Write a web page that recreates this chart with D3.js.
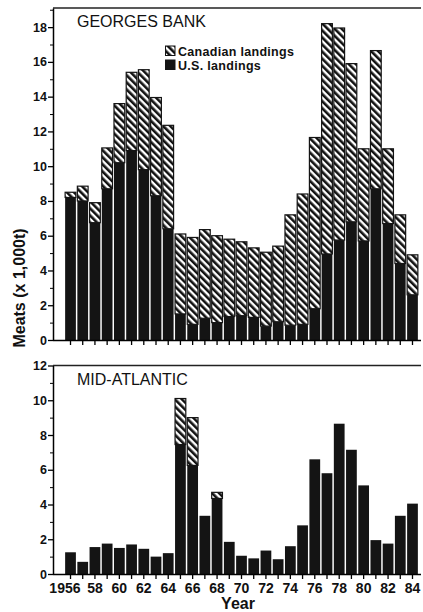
<!DOCTYPE html>
<html>
<head>
<meta charset="utf-8">
<script src="https://cdn.jsdelivr.net/npm/d3@7"></script>
<style>
  body { margin: 0; background: #fff; }
  svg { display: block; font-family: "Liberation Sans", Arial, sans-serif; }
</style>
</head>
<body>
<div id="chart"></div>
<script>
// landings of sea scallop meats, thousand tonnes
const years = d3.range(1956, 1985);
const gbUS = [8.2, 8.0, 6.75, 8.7, 10.2, 10.9, 9.8, 8.3, 6.4, 1.5, 0.9, 1.25, 1.0, 1.35, 1.4,
  1.3, 0.8, 1.05, 0.85, 0.9, 1.8, 4.95, 5.75, 6.8, 5.7, 8.7, 6.7, 4.4, 2.6];
const gbCanada = [0.3, 0.85, 1.15, 2.35, 3.4, 4.5, 5.75, 5.65, 5.95, 4.6, 5.0, 5.1, 5.0, 4.45, 4.25,
  4.0, 4.25, 4.35, 6.35, 7.5, 9.85, 13.25, 12.2, 9.1, 5.3, 7.95, 4.3, 2.8, 2.3];
const maUS = [1.25, 0.7, 1.55, 1.75, 1.5, 1.7, 1.45, 1.0, 1.2, 7.45, 6.25, 3.35, 4.35, 1.85, 1.05,
  0.9, 1.35, 0.85, 1.6, 2.8, 6.6, 5.8, 8.65, 7.15, 5.1, 1.95, 1.75, 3.35, 4.05];
const maCanada = [0, 0, 0, 0, 0, 0, 0, 0, 0, 2.65, 2.75, 0, 0.35, 0, 0,
  0, 0, 0, 0, 0, 0, 0, 0, 0, 0, 0, 0, 0, 0];
const seriesKeys = ["us", "canada"];
const legendLabels = ["Canadian landings", "U.S. landings"];

const width = 423, height = 612;
const left = 53, right = 421;

const svg = d3.select("#chart").append("svg")
  .attr("width", width).attr("height", height);

// diagonal hatch for canadian landings
svg.append("defs").append("pattern")
  .attr("id", "hatch")
  .attr("patternUnits", "userSpaceOnUse")
  .attr("width", 5).attr("height", 5)
  .attr("patternTransform", "rotate(-45)")
  .call(p => {
    p.append("rect").attr("width", 5).attr("height", 5).attr("fill", "#fff");
    p.append("rect").attr("width", 2.6).attr("height", 5).attr("fill", "#111");
  });

let x = d3.scaleBand()
  .domain(years)
  .range([64.4, 418.6])
  .paddingInner(0.12)
  .paddingOuter(0.06);

function panel(us, canada, yTop, yBottom, maxV, title, titleY, showLabels) {
  const data = years.map((yr, i) => ({year: yr, us: us[i], canada: canada[i]}));
  const stacked = d3.stack().keys(seriesKeys)(data);

  let y = d3.scaleLinear().domain([0, maxV]).range([yBottom, yTop]);

  const g = svg.append("g");

  // frame top line
  g.append("line")
    .attr("x1", left).attr("x2", right)
    .attr("y1", yTop).attr("y2", yTop)
    .attr("stroke", "#222").attr("stroke-width", 1.3);

  // bars
  stacked.forEach(s => {
    g.append("g").selectAll("rect")
      .data(s.filter(d => d[1] - d[0] > 0))
      .join("rect")
      .attr("x", d => x(d.data.year))
      .attr("width", x.bandwidth())
      .attr("y", d => y(d[1]))
      .attr("height", d => y(d[0]) - y(d[1]))
      .attr("fill", s.key === "us" ? "#141414" : "url(#hatch)")
      .attr("stroke", "#141414")
      .attr("stroke-width", s.key === "us" ? 0 : 1.2);
  });

  // y axis major + minor
  const yAxis = g.append("g")
    .attr("transform", `translate(${left},0)`)
    .call(d3.axisLeft(y)
      .tickValues(d3.range(0, Math.floor(maxV) + 1, 2))
      .tickSize(5).tickSizeOuter(0).tickPadding(1));
  yAxis.select(".domain").attr("stroke-width", 1.5);
  yAxis.selectAll("line").attr("stroke-width", 1.3);
  yAxis.selectAll("text")
    .attr("font-size", 12.5).attr("font-weight", "bold").attr("fill", "#111");

  g.append("g")
    .attr("transform", `translate(${left},0)`)
    .call(d3.axisLeft(y)
      .tickValues(d3.range(1, maxV, 2))
      .tickSize(3).tickSizeOuter(0).tickFormat(""))
    .call(a => a.select(".domain").remove());

  // x axis
  const xAxis = g.append("g")
    .attr("transform", `translate(0,${yBottom})`)
    .call(d3.axisBottom(x)
      .tickSize(5).tickSizeOuter(0).tickPadding(4)
      .tickFormat(d => !showLabels ? "" : d === 1956 ? "1956" : d % 2 === 0 ? String(d).slice(2) : ""));
  xAxis.select(".domain")
    .attr("d", `M${left},0.5H${right}`)
    .attr("stroke-width", 1.5);
  xAxis.selectAll("line").attr("stroke-width", 1.3);
  xAxis.selectAll("text")
    .attr("font-size", 14).attr("font-weight", "bold").attr("fill", "#111");
  xAxis.selectAll(".tick").filter(d => d === 1956).select("text")
    .attr("text-anchor", "end").attr("x", 10);

  g.append("text")
    .attr("x", 77).attr("y", titleY)
    .attr("font-size", 16).attr("fill", "#111")
    .text(title);

  return y;
}

panel(gbUS, gbCanada, 8, 340, 19.1, "GEORGES BANK", 27, false);
panel(maUS, maCanada, 365.5, 574, 12, "MID-ATLANTIC", 385, true);

// legend
const legend = svg.append("g").attr("transform", "translate(165,45)");
legendLabels.forEach((lab, i) => {
  legend.append("rect")
    .attr("x", 0.5).attr("y", i * 14 + 1)
    .attr("width", 9.5).attr("height", 9.5)
    .attr("fill", i === 0 ? "url(#hatch)" : "#141414")
    .attr("stroke", "#141414").attr("stroke-width", 1);
  legend.append("text")
    .attr("x", 13).attr("y", i * 14 + 10.5)
    .attr("font-size", 12.5).attr("font-weight", "bold").attr("fill", "#111")
    .attr("letter-spacing", 0.3)
    .text(lab);
});

// axis titles
svg.append("text")
  .attr("transform", "translate(25,288) rotate(-90)")
  .attr("text-anchor", "middle")
  .attr("font-size", 16).attr("font-weight", "bold").attr("fill", "#111")
  .text("Meats (x 1,000t)");

svg.append("text")
  .attr("x", 238).attr("y", 609)
  .attr("text-anchor", "middle")
  .attr("font-size", 16).attr("font-weight", "bold").attr("fill", "#111")
  .text("Year");
</script>
</body>
</html>
